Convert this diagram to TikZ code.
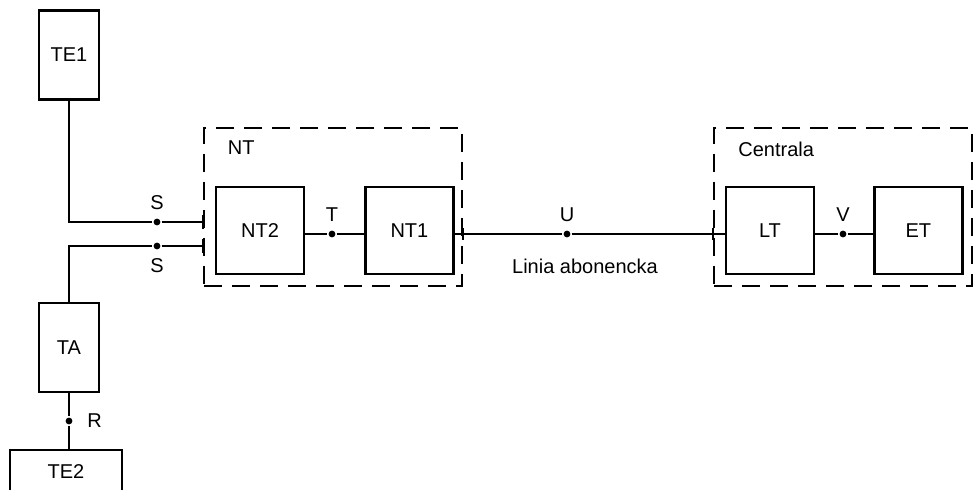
\documentclass[tikz,border=0pt]{standalone}
\usepackage{fontspec}
\setmainfont{Liberation Sans}
\usetikzlibrary{positioning}

\begin{document}
\begin{tikzpicture}[x=0.5pt,y=-0.5pt,line width=1.2pt,
  box/.style={rectangle,draw,minimum width=44pt,minimum height=43.5pt,inner sep=0pt},
  tall/.style={box,minimum width=30pt,minimum height=44.5pt},
  group/.style={rectangle,draw,dash pattern=on 9pt off 5pt,minimum width=129pt,
    minimum height=79pt,inner sep=0pt},
  dot/.style={circle,fill,inner sep=0pt,minimum size=3.4pt}]
    \useasboundingbox (0,0) rectangle (976,490);
    \clip (0,0) rectangle (976,490);
    \node[tall] (TE1) at (69,55) {TE1};
    \node[tall] (TA) at (69,347.5) {TA};
    \node[box,minimum width=56pt,minimum height=22pt] (TE2) at (66,472) {TE2};
    \node[group] (NT) at (333,207) {};
    \node[anchor=west] (NTname) at (220,148) {NT};
    \node[box] (NT2) at (260,230.5) {NT2};
    \node[box,right=29.5pt of NT2] (NT1) {NT1};
    \node[group] (CT) at (843,207) {};
    \node[anchor=west] (CTname) at (730.5,149) {Centrala};
    \node[box] (LT) at (770,230.5) {LT};
    \node[box,right=29pt of LT] (ET) {ET};
    \node[dot,label=above:T] (T) at (332,234) {};
    \node[dot,label=above:U] (U) at (567,234) {};
    \node[dot,label=above:V] (V) at (843,234) {};
    \node[dot,label=above:S] (S1) at (157,222) {};
    \node[dot,label=below:S] (S2) at (157,246) {};
    \node[dot,label={[label distance=3pt]right:R}] (R) at (69,421) {};
    \node (line) at (585,266) {Linia abonencka};
    \coordinate (s1) at (203,222);
    \coordinate (s2) at (203,246);
    \draw (TE1.south) |- (S1) -- (s1);
    \draw (TA.north) |- (S2) -- (s2);
    \draw (TA.south) -- (R) -- (TE2.north -| R);
    \draw (NT2.east |- T) -- (T) -- (NT1.west |- T);
    \draw (NT1.east |- U) -- (U) -- (LT.west |- U);
    \draw (LT.east |- V) -- (V) -- (ET.west |- V);
    \draw ([yshift=-3.5pt]s1) -- ([yshift=3.5pt]s1);
    \draw ([yshift=-3.5pt]s2) -- ([yshift=3.5pt]s2);
    \draw ([yshift=-3pt]NT.east |- U) -- ([yshift=3pt]NT.east |- U);
    \draw ([yshift=-3pt]CT.west |- U) -- ([yshift=3pt]CT.west |- U);
\end{tikzpicture}
\end{document}
